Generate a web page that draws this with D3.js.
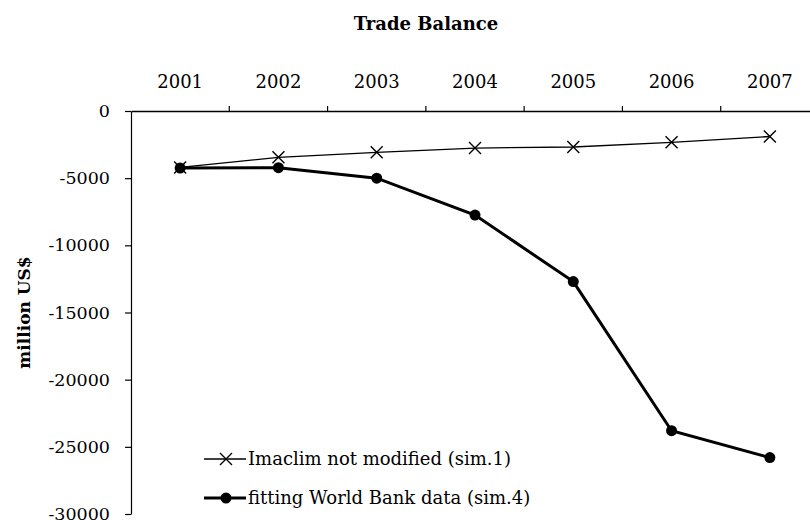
<!DOCTYPE html>
<html>
<head>
<meta charset="utf-8">
<script src="https://cdn.jsdelivr.net/npm/d3@7"></script>
<style>
  body { margin: 0; background: #fff; }
  text { font-family: "DejaVu Serif", serif; fill: #000; }
</style>
</head>
<body>
<div id="chart"></div>
<script>
// Trade balance, two simulations
var years = ["2001", "2002", "2003", "2004", "2005", "2006", "2007"];
var imaclim = [-4200, -3450, -3075, -2760, -2680, -2330, -1900];
var worldBank = [-4250, -4220, -5000, -7750, -12700, -23800, -25800];
var yTicks = [0, -5000, -10000, -15000, -20000, -25000, -30000];
var seriesNames = ["Imaclim not modified (sim.1)", "fitting World Bank data (sim.4)"];

var width = 810, height = 520;
var plotLeft = 131, plotTop = 111, plotBottom = 514, plotRight = 819;

var svg = d3.select("#chart").append("svg")
  .attr("width", width)
  .attr("height", height);

var x = d3.scaleBand()
  .domain(years)
  .range([plotLeft, plotRight]);

var y = d3.scaleLinear()
  .domain([-30000, 0])
  .range([plotBottom, plotTop]);

// title
svg.append("text")
  .attr("x", 426)
  .attr("y", 30)
  .attr("text-anchor", "middle")
  .style("font-size", "18px")
  .style("font-weight", "bold")
  .text("Trade Balance");

// y label
svg.append("text")
  .attr("transform", "translate(30," + ((plotTop + plotBottom) / 2) + ") rotate(-90)")
  .attr("text-anchor", "middle")
  .style("font-size", "17px")
  .style("font-weight", "bold")
  .text("million US$");

// y axis
svg.append("g")
  .attr("transform", "translate(" + plotLeft + ",0)")
  .call(d3.axisLeft(y)
    .tickValues(yTicks)
    .tickSize(6)
    .tickSizeOuter(0)
    .tickPadding(15)
    .tickFormat(d => d))
  .call(g => g.selectAll("text").style("font-size", "17.5px").attr("font-family", null))
  .call(g => g.selectAll("path, line").attr("stroke", "#000").attr("stroke-width", 1.2));

// x axis along zero, labels on top
svg.append("g")
  .attr("transform", "translate(0," + y(0) + ")")
  .call(d3.axisTop(x)
    .tickSize(0)
    .tickSizeOuter(0)
    .tickPadding(23))
  .call(g => g.selectAll("text").style("font-size", "18px").attr("font-family", null))
  .call(g => g.select(".domain").attr("stroke", "#000").attr("stroke-width", 1.5));

// category boundary ticks
svg.append("g")
  .selectAll("line")
  .data(years.slice(1))
  .enter().append("line")
    .attr("x1", d => x(d))
    .attr("x2", d => x(d))
    .attr("y1", y(0))
    .attr("y2", y(0) - 5)
    .attr("stroke", "#000")
    .attr("stroke-width", 1.2);

var cx = (d, i) => x(years[i]) + x.bandwidth() / 2;

// thin series with crosses
var line = d3.line()
  .x(cx)
  .y(d => y(d));

svg.append("path")
  .datum(imaclim)
  .attr("d", line)
  .attr("fill", "none")
  .attr("stroke", "#000")
  .attr("stroke-width", 1.3);

function cross(g, s) {
  g.append("path")
    .attr("d", "M" + (-s) + "," + (-s) + "L" + s + "," + s + "M" + (-s) + "," + s + "L" + s + "," + (-s))
    .attr("stroke", "#000")
    .attr("stroke-width", 1.4)
    .attr("fill", "none");
}

svg.selectAll(".cross")
  .data(imaclim)
  .enter().append("g")
    .attr("class", "cross")
    .attr("transform", (d, i) => "translate(" + cx(d, i) + "," + y(d) + ")")
    .each(function() { cross(d3.select(this), 6); });

// thick series with dots
svg.append("path")
  .datum(worldBank)
  .attr("d", line)
  .attr("fill", "none")
  .attr("stroke", "#000")
  .attr("stroke-width", 3);

svg.selectAll(".dot")
  .data(worldBank)
  .enter().append("circle")
    .attr("class", "dot")
    .attr("cx", cx)
    .attr("cy", d => y(d))
    .attr("r", 5.5)
    .attr("fill", "#000");

// legend
var legend = svg.append("g").attr("transform", "translate(204,459)");

legend.append("line")
  .attr("x1", 0).attr("x2", 42)
  .attr("stroke", "#000").attr("stroke-width", 1.3);
cross(legend.append("g").attr("transform", "translate(22,0)"), 6);
legend.append("text")
  .attr("x", 44).attr("dy", "0.35em")
  .style("font-size", "18px")
  .text(seriesNames[0]);

var l2 = legend.append("g").attr("transform", "translate(0,39)");
l2.append("line")
  .attr("x1", 0).attr("x2", 42)
  .attr("stroke", "#000").attr("stroke-width", 3);
l2.append("circle").attr("cx", 22).attr("r", 5.5).attr("fill", "#000");
l2.append("text")
  .attr("x", 44).attr("dy", "0.35em")
  .style("font-size", "18px")
  .text(seriesNames[1]);
</script>
</body>
</html>
